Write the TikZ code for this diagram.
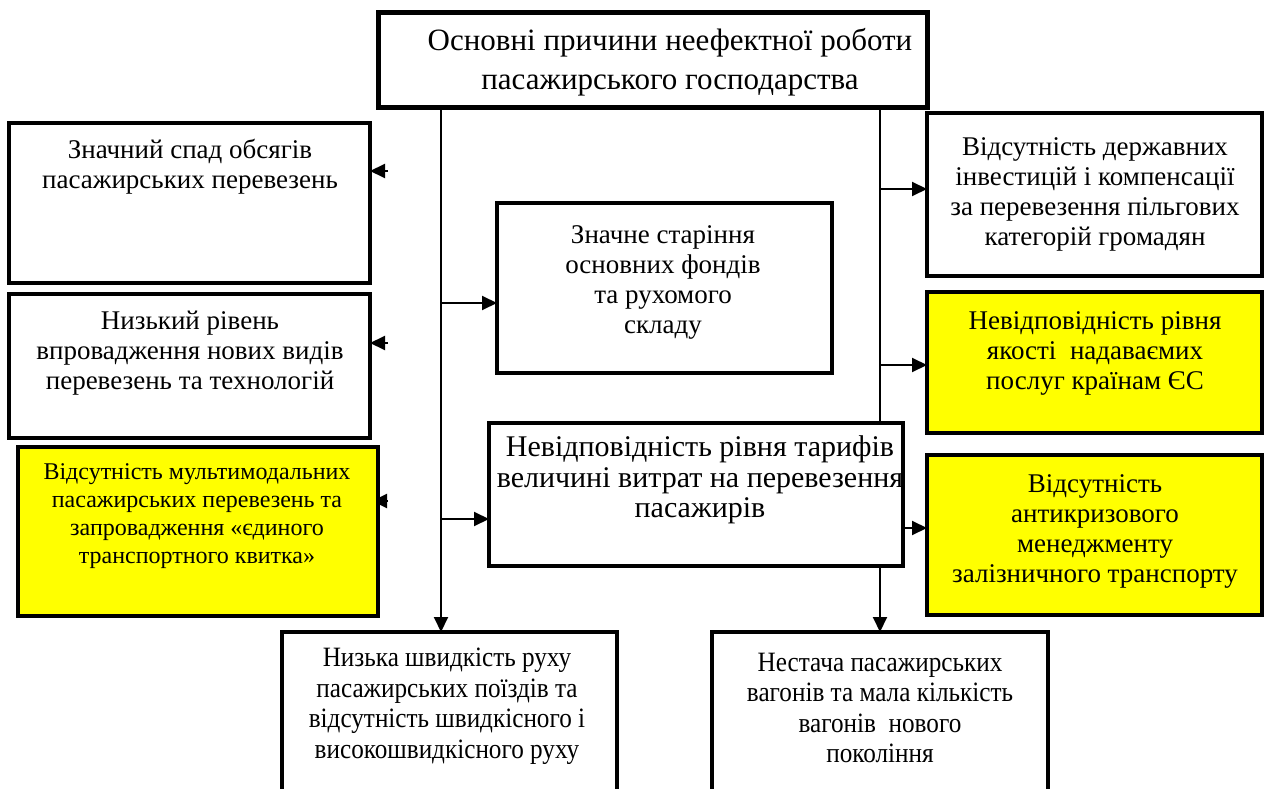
\documentclass[tikz,border=0pt]{standalone}
\usepackage{fontspec}
\setmainfont{Liberation Serif}
\newfontfamily\narrowserif[FakeStretch=0.9]{Liberation Serif}
\usetikzlibrary{arrows.meta,calc}
\pgfdeclarelayer{background}
\pgfsetlayers{background,main}
\definecolor{boxyellow}{HTML}{FFFF00}
\begin{document}
\begin{tikzpicture}[x=1pt,y=-1pt,
  box/.style={draw=black, line width=3.5pt, fill=white, rectangle, inner sep=0pt, outer sep=0pt, anchor=north west},
  ybox/.style={box, fill=boxyellow},
  topbox/.style={box, line width=5pt},
  txt/.style={align=center, inner sep=0pt, font=\fontsize{27}{30}\selectfont},
  ttxt/.style={align=center, inner sep=0pt, font=\fontsize{31}{39}\selectfont},
  ntxt/.style={align=center, inner sep=0pt, font=\narrowserif\fontsize{28}{30.5}\selectfont},
  conn/.style={draw=black, line width=2pt, -{Triangle[length=15pt,width=14pt]}},
  vline/.style={draw=black, line width=2pt}
]
\useasboundingbox (0,0) rectangle (1270,789);
\begin{pgfonlayer}{background}
\fill[white] (0,0) rectangle (1270,789);
\end{pgfonlayer}
\clip (0,0) rectangle (1270,789);

% boxes
\node[topbox, minimum width=549pt, minimum height=95pt] (T) at (378,13) {};
\node[box, minimum width=361pt, minimum height=160pt] (L1) at (9,123) {};
\node[box, minimum width=361pt, minimum height=144pt] (L2) at (9,294) {};
\node[ybox, minimum width=360pt, minimum height=169pt] (L3) at (18,447) {};
\node[box, minimum width=335pt, minimum height=170pt] (M1) at (497,203) {};
\node[box, minimum width=414pt, minimum height=143pt] (M2) at (489,423) {};
\node[box, minimum width=335pt, minimum height=163pt] (R1) at (927,113) {};
\node[ybox, minimum width=335pt, minimum height=141pt] (R2) at (927,292) {};
\node[ybox, minimum width=335pt, minimum height=160pt] (R3) at (927,455) {};
\node[box, minimum width=335pt, minimum height=200pt] (B1) at (282,632) {};
\node[box, minimum width=336pt, minimum height=200pt] (B2) at (712,632) {};

% texts
\node[ttxt] (tT) at (670,62) {Основні причини неефектної роботи\\пасажирського господарства};
\node[txt] (tL1) at (190,167) {Значний спад обсягів\\пасажирських перевезень};
\node[txt] (tL2) at (190,353) {Низький рівень\\впровадження нових видів\\перевезень та технологій};
\node[txt, font=\fontsize{24}{28}\selectfont] (tL3) at (197,516) {Відсутність мультимодальних\\пасажирських перевезень та\\запровадження «єдиного\\транспортного квитка»};
\node[txt] (tM1) at (663,282) {Значне старіння\\основних фондів\\та рухомого\\складу};
\node[txt, font=\fontsize{30}{30.5}\selectfont] (tM2) at (700,480) {Невідповідність рівня тарифів\\величині витрат на перевезення\\пасажирів};
\node[txt] (tR1) at (1095,194) {Відсутність державних\\інвестицій і компенсації\\за перевезення пільгових\\категорій громадян};
\node[txt] (tR2) at (1095,353) {Невідповідність рівня\\якості~ надаваємих\\послуг країнам ЄС};
\node[txt] (tR3) at (1095,531) {Відсутність\\антикризового\\менеджменту\\залізничного транспорту};
\node[ntxt] (tB1) at (447,706) {Низька швидкість руху\\пасажирських поїздів та\\відсутність швидкісного і\\високошвидкісного руху};
\node[ntxt] (tB2) at (880,708) {Нестача пасажирських\\вагонів та мала кількість\\вагонів~ нового\\покоління};

% connector coordinates
\coordinate (ltop) at (441,108);
\coordinate (rtop) at (880,106);
\coordinate (h1) at (441,303);
\coordinate (h2) at (441,519);
\coordinate (r1) at (880,189);
\coordinate (r2) at (880,365);
\coordinate (r3) at (880,528);
\coordinate (a1) at (388,171);
\coordinate (a2) at (388,343);
\coordinate (a3) at (388,501);

\begin{pgfonlayer}{background}
\draw[conn] (ltop) -- (ltop |- B1.north);
\draw[conn] (rtop) -- (rtop |- B2.north);
\draw[conn] (h1) -- (h1 -| M1.west);
\draw[conn] (h2) -- (h2 -| M2.west);
\draw[conn] (r1) -- (r1 -| R1.west);
\draw[conn] (r2) -- (r2 -| R2.west);
\draw[conn] (r3) -- (r3 -| R3.west);
\draw[conn] (a1) -- (a1 -| L1.east);
\draw[conn] (a2) -- (a2 -| L2.east);
\draw[conn] (a3) -- ($(a3 -| L3.east)+(-6,0)$);
\end{pgfonlayer}
\end{tikzpicture}
\end{document}
